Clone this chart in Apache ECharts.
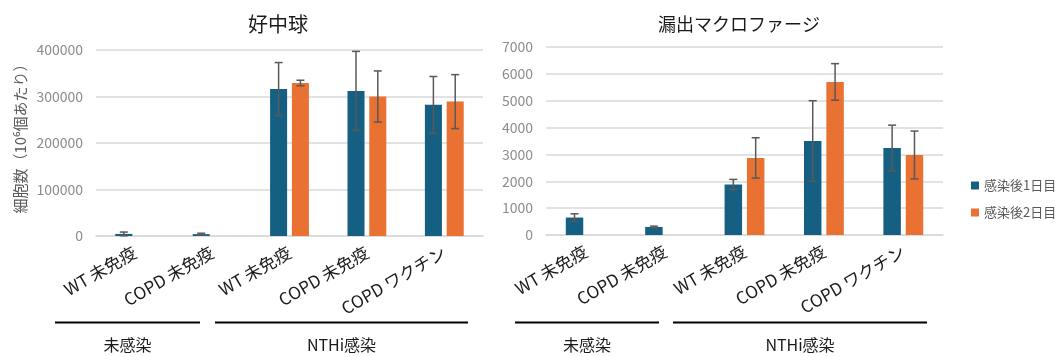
<!DOCTYPE html>
<html>
<head>
<meta charset="utf-8">
<script src="https://cdn.jsdelivr.net/npm/echarts@6/dist/echarts.min.js"></script>
<style>
  html, body { margin: 0; padding: 0; background: #fff; }
  #chart { width: 1060px; height: 357px; }
</style>
</head>
<body>
<div id="chart"></div>
<script>
// Treatment groups (x-axis categories, shared by both panels)
const categories = ['WT 未免疫', 'COPD 未免疫', 'WT 未免疫', 'COPD 未免疫', 'COPD ワクチン'];
const seriesNames = ['感染後1日目', '感染後2日目'];

// Neutrophils (cells per 10^6)
const neutDay1    = [4500, 4000, 316000, 312000, 282000];
const neutDay1Err = [4000, 2000, 57000, 85000, 61000];
const neutDay2    = [null, null, 329000, 300000, 289000];
const neutDay2Err = [null, null, 6000, 55000, 58000];

// Exudate macrophages
const macDay1    = [650, 300, 1880, 3500, 3240];
const macDay1Err = [140, 30, 190, 1500, 850];
const macDay2    = [null, null, 2870, 5700, 2980];
const macDay2Err = [null, null, 750, 680, 890];

// Axis ranges
const neutAxis = { max: 400000, interval: 100000 };
const macAxis  = { max: 7000, interval: 1000 };

// Group brackets under the category labels
const groupLabels = ['未感染', 'NTHi感染'];

const FONT = '"Noto Sans CJK JP", "Noto Sans", sans-serif';
const BLUE = '#156082';
const ORANGE = '#E97132';
const GRID_COLOR = '#d9d9d9';
const BAR_W = 0.22;     // bar width as share of category band
const BAR_GAP = 0.28;   // gap between paired bars as share of bar width

const chart = echarts.init(document.getElementById('chart'), null, { renderer: 'canvas' });

function errorSeries(values, errs, side, axisIdx) {
  const data = [];
  values.forEach((v, i) => { if (v != null && errs[i] != null) data.push([i, v, errs[i]]); });
  return {
    type: 'custom',
    xAxisIndex: axisIdx, yAxisIndex: axisIdx,
    z: 5,
    silent: true,
    data: data,
    renderItem: function (params, api) {
      const xi = api.value(0), v = api.value(1), e = api.value(2);
      const band = api.size([1, 0])[0];
      const bw = band * BAR_W;
      const off = side * bw * (1 + BAR_GAP) / 2;
      const c = api.coord([xi, v]);
      const hi = api.coord([xi, v + e]);
      const lo = api.coord([xi, Math.max(v - e, 0)]);
      const x = c[0] + off;
      const cap = 4;
      const style = { stroke: '#595959', lineWidth: 1.5 };
      return {
        type: 'group',
        children: [
          { type: 'line', shape: { x1: x, y1: hi[1], x2: x, y2: lo[1] }, style: style },
          { type: 'line', shape: { x1: x - cap, y1: hi[1], x2: x + cap, y2: hi[1] }, style: style },
          { type: 'line', shape: { x1: x - cap, y1: lo[1], x2: x + cap, y2: lo[1] }, style: style }
        ]
      };
    }
  };
}

function barSeries(name, values, color, axisIdx) {
  return {
    name: name,
    type: 'bar',
    xAxisIndex: axisIdx, yAxisIndex: axisIdx,
    data: values.map(v => (v == null ? '-' : v)),
    barWidth: (BAR_W * 100) + '%',
    barGap: (BAR_GAP * 100) + '%',
    itemStyle: { color: color },
    z: 3
  };
}

function xAxisDef(gridIndex) {
  return {
    type: 'category',
    gridIndex: gridIndex,
    data: categories,
    axisLine: { show: true, lineStyle: { color: GRID_COLOR, width: 1.5 } },
    axisTick: { show: false },
    axisLabel: {
      interval: 0, rotate: 30, margin: 15,
      color: '#1a1a1a', fontSize: 17, fontFamily: FONT
    }
  };
}

function yAxisDef(gridIndex, cfg) {
  return {
    type: 'value',
    gridIndex: gridIndex,
    min: 0, max: cfg.max, interval: cfg.interval,
    axisLine: { show: false },
    axisTick: { show: false },
    splitLine: { lineStyle: { color: GRID_COLOR, width: 1.5 } },
    axisLabel: {
      color: '#8c8c8c', fontSize: 14, margin: 13, fontFamily: FONT,
      formatter: v => String(v)
    }
  };
}

const groupLineStyle = { stroke: '#000', lineWidth: 2 };
function bracket(x1, x2, label) {
  return [
    { type: 'line', shape: { x1: x1, y1: 322.5, x2: x2, y2: 322.5 }, style: groupLineStyle },
    {
      type: 'text', x: (x1 + x2) / 2, y: 345,
      style: { text: label, fill: '#1a1a1a', font: '16px ' + FONT, textAlign: 'center', textVerticalAlign: 'middle' }
    }
  ];
}

const option = {
  animation: false,
  textStyle: { fontFamily: FONT },
  title: [
    { text: '好中球', left: 243, top: 9, textStyle: { fontSize: 20, fontWeight: 'normal', color: '#1a1a1a', fontFamily: FONT } },
    { text: '漏出マクロファージ', left: 653, top: 10, textStyle: { fontSize: 18, fontWeight: 'normal', color: '#1a1a1a', fontFamily: FONT } }
  ],
  legend: {
    orient: 'vertical',
    left: 966, top: 174,
    itemWidth: 8, itemHeight: 8, itemGap: 14,
    icon: 'rect',
    data: seriesNames,
    textStyle: { color: '#595959', fontSize: 13, fontFamily: FONT }
  },
  grid: [
    { left: 96, right: 577, top: 50, bottom: 121, containLabel: false },
    { left: 546, right: 117, top: 47, bottom: 122, containLabel: false }
  ],
  xAxis: [xAxisDef(0), xAxisDef(1)],
  yAxis: [yAxisDef(0, neutAxis), yAxisDef(1, macAxis)],
  series: [
    barSeries(seriesNames[0], neutDay1, BLUE, 0),
    barSeries(seriesNames[1], neutDay2, ORANGE, 0),
    barSeries(seriesNames[0], macDay1, BLUE, 1),
    barSeries(seriesNames[1], macDay2, ORANGE, 1),
    errorSeries(neutDay1, neutDay1Err, -1, 0),
    errorSeries(neutDay2, neutDay2Err, 1, 0),
    errorSeries(macDay1, macDay1Err, -1, 1),
    errorSeries(macDay2, macDay2Err, 1, 1)
  ],
  graphic: [
    {
      type: 'text', x: 20, y: 135, rotation: Math.PI / 2,
      style: { text: '細胞数（10⁶個あたり）', fill: '#595959', font: '15px ' + FONT, textAlign: 'center', textVerticalAlign: 'middle' }
    },
    ...bracket(55, 200, groupLabels[0]),
    ...bracket(215, 468, groupLabels[1]),
    ...bracket(515, 659, groupLabels[0]),
    ...bracket(673, 927, groupLabels[1])
  ]
};

chart.setOption(option);
</script>
</body>
</html>
